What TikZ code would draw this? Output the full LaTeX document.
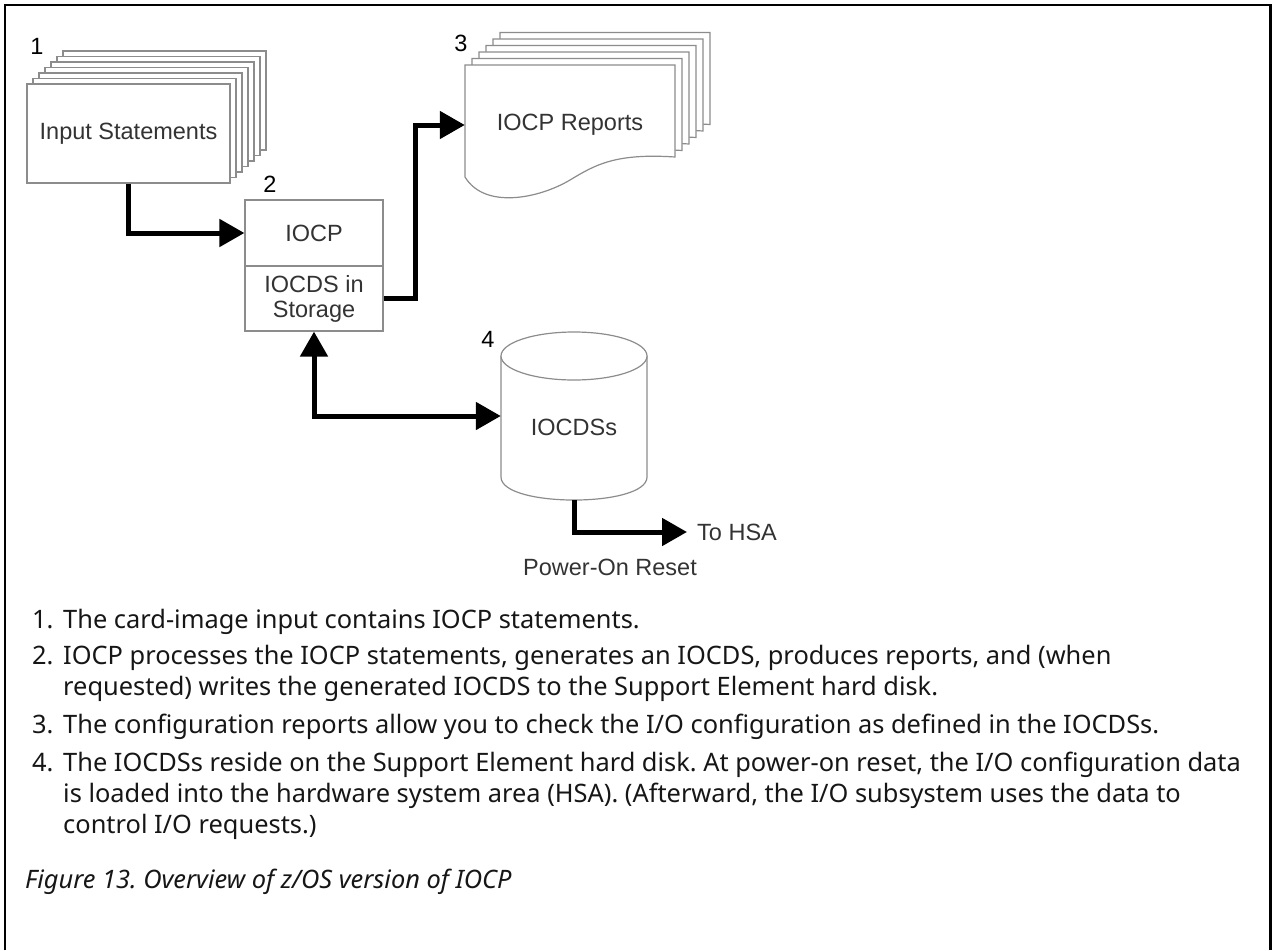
\documentclass[tikz,border=0pt]{standalone}
\usepackage{fontspec}
\setmainfont{Noto Sans}
\newfontfamily\diagfont{Liberation Sans}
\usetikzlibrary{arrows.meta,positioning}
\frenchspacing

\definecolor{sheetgray}{HTML}{8C8C8C}
\definecolor{lblgray}{HTML}{333333}
\definecolor{bodyink}{HTML}{161616}

\tikzset{
  sheet/.style={draw=sheetgray, fill=white, line width=1.2pt},
  lbl/.style={font=\diagfont\fontsize{23.5}{25}\selectfont, text=lblgray},
  num/.style={font=\diagfont\fontsize{23.5}{25}\selectfont, text=black},
  flow/.style={line width=5pt, -{Triangle[length=25pt,width=27pt]}},
  item/.style={anchor=base west, inner sep=0pt, font=\fontsize{25.4}{31}\selectfont, text=bodyink},
}

\begin{document}
\begin{tikzpicture}[x=1pt, y=-1pt]
  \useasboundingbox (0,0) rectangle (1273,950);

  % open frame
  \draw[line width=2.5pt] (5,950) -- (5,5) -- (1270.5,5) -- (1270.5,950);

  % input statements deck
  \foreach \k in {6,5,...,1}
  {
    \draw[sheet] (27+6*\k, 84-5.5*\k) rectangle ++(203,99);
  }
  \node[sheet, lbl, minimum width=203pt, minimum height=99pt, inner sep=0pt] (inp) at (128.5,133.5) {Input Statements};
  \node[num] (n1) at (37,46) {1};

  % IOCP box
  \node[sheet, lbl, minimum width=138pt, minimum height=66pt] (iocp) at (314,233) {IOCP};
  \node[sheet, lbl, minimum width=138pt, minimum height=65pt, align=center] (stor) at (314,298.5) {IOCDS in\\Storage};
  \node[num] (n2) at (270,184) {2};

  % report deck
  \foreach \k in {5,4,...,0}
  {
    \begin{scope}[shift={(465+7*\k, 65-6.5*\k)}]
      \draw[sheet] (0,0) -- (210,0) -- (210,92)
        .. controls (150,88) and (130,100) .. (105,115)
        .. controls (75,133) and (20,145) .. (0,112) -- cycle;
    \end{scope}
  }
  \node[lbl, minimum width=210pt, minimum height=112pt] (rep) at (570,125) {IOCP Reports};
  \node[num] (n3) at (461,43) {3};

  % disk
  \draw[sheet] (501,356) -- (501,477)
    .. controls (501,507.7) and (647,507.7) .. (647,477) -- (647,356);
  \draw[sheet] (574,356) ellipse [x radius=73pt, y radius=24pt];
  \node[minimum width=146pt, minimum height=168pt, inner sep=0pt] (dsk) at (574,416) {};
  \node[lbl] (dsklbl) at (574,427) {IOCDSs};
  \node[num] (n4) at (488,339) {4};

  \node[lbl, anchor=west, inner xsep=10pt] (hsa) at (687,532) {To HSA};
  \node[lbl] (por) at (610,567) {Power-On Reset};

  % flows
  \draw[flow] (inp.south) |- (iocp.west);
  \draw[flow] (stor.east) -- ++(32,0) |- (rep.west);
  \draw[flow, {Triangle[length=25pt,width=27pt]}-{Triangle[length=25pt,width=27pt]}] (stor.south) |- (dsk.west);
  \draw[flow] (dsk.south) |- (hsa.west);

  % notes
  \node[item] (i1n) at (32,628) {1.};
  \node[item] (i1a) at (63,628) {The card-image input contains IOCP statements.};
  \node[item] (i2n) at (32,664) {2.};
  \node[item] (i2a) at (63,664) {IOCP processes the IOCP statements, generates an IOCDS, produces reports, and (when};
  \node[item] (i2b) at (63,695) {requested) writes the generated IOCDS to the Support Element hard disk.};
  \node[item] (i3n) at (32,733) {3.};
  \node[item] (i3a) at (63,733) {The configuration reports allow you to check the I/O configuration as defined in the IOCDSs.};
  \node[item] (i4n) at (32,771) {4.};
  \node[item] (i4a) at (63,771) {The IOCDSs reside on the Support Element hard disk. At power-on reset, the I/O configuration data};
  \node[item] (i4b) at (63,802) {is loaded into the hardware system area (HSA). (Afterward, the I/O subsystem uses the data to};
  \node[item] (i4c) at (63,833) {control I/O requests.)};
  \node[item, font=\itshape\fontsize{25.4}{31}\selectfont] (cap) at (25,888) {Figure 13. Overview of z/OS version of IOCP};
\end{tikzpicture}
\end{document}
